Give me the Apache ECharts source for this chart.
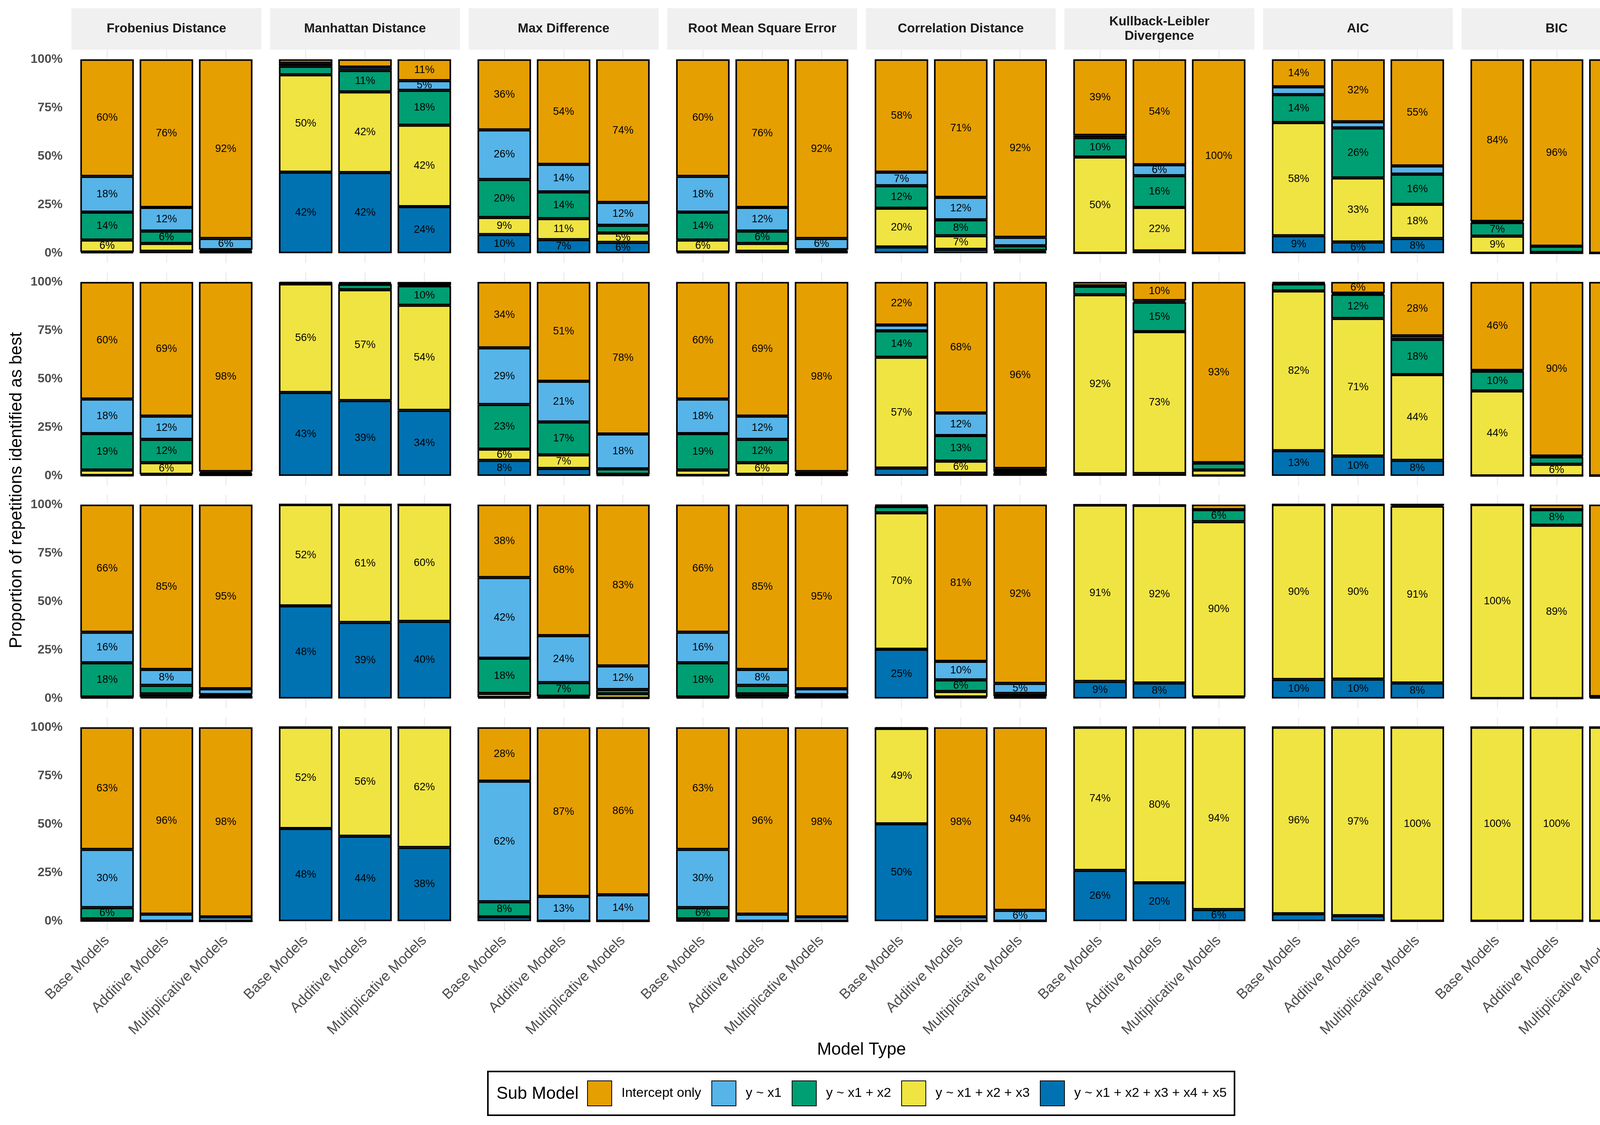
<!DOCTYPE html>
<html>
<head>
<meta charset="utf-8">
<script src="https://cdn.jsdelivr.net/npm/echarts@6/dist/echarts.min.js"></script>
<style>html,body{margin:0;padding:0;background:#fff}#chart{width:4320px;height:2880px}</style>
</head>
<body>
<div id="chart"></div>
<script>
// ---------- data ----------
const modelTypes = ['Base Models', 'Additive Models', 'Multiplicative Models'];
const subModels = ['Intercept only', 'y ~ x1', 'y ~ x1 + x2', 'y ~ x1 + x2 + x3', 'y ~ x1 + x2 + x3 + x4 + x5'];
const metricNames = ['Frobenius Distance', 'Manhattan Distance', 'Max Difference', 'Root Mean Square Error',
  'Correlation Distance', 'Kullback-Leibler\nDivergence', 'AIC', 'BIC'];
const sampleSizes = ['n = 100', 'n = 250', 'n = 1000', 'n = 5000'];
const yTicks = [0, 25, 50, 75, 100];

// each metric: rows n=100,250,1000,5000; each row: [base, additive, multiplicative];
// each bar: % for [Intercept only, y~x1, y~x1+x2, y~x1+x2+x3, y~x1+...+x5]
const frobeniusDistance = [
  [[60.4, 18.4, 14.4, 6.2, 0.6], [76.4, 12.2, 6.4, 4.0, 1.0], [92.4, 5.8, 0.8, 0.4, 0.6]],
  [[60.4, 17.8, 18.8, 2.8, 0.2], [69.2, 12.0, 12.0, 6.0, 0.8], [97.8, 0.8, 0.6, 0.2, 0.6]],
  [[65.8, 15.8, 17.6, 0.2, 0.6], [85.0, 8.2, 4.4, 1.6, 0.8], [95.0, 3.0, 0.6, 0.2, 1.2]],
  [[63.0, 30.0, 5.8, 1.0, 0.2], [96.4, 3.6, 0, 0, 0], [97.8, 2.2, 0, 0, 0]]
];
const manhattanDistance = [
  [[2.0, 1.6, 4.4, 50.2, 41.8], [4.0, 1.8, 11.0, 41.6, 41.6], [11.0, 5.0, 18.0, 42.0, 24.0]],
  [[0.6, 0, 0.4, 56.0, 43.0], [0.8, 0.4, 2.8, 57.2, 38.8], [1.6, 0.4, 10.0, 54.2, 33.8]],
  [[0, 0, 0, 52.2, 47.8], [0, 0, 0, 60.8, 39.2], [0, 0, 0, 60.2, 39.8]],
  [[0, 0, 0, 52.2, 47.8], [0, 0, 0, 56.2, 43.8], [0, 0, 0, 62.0, 38.0]]
];
const maxDifference = [
  [[36.4, 25.6, 19.6, 8.8, 9.6], [54.2, 14.2, 13.8, 10.8, 7.0], [73.8, 11.8, 4.0, 4.8, 5.6]],
  [[34.0, 29.2, 23.0, 5.8, 8.0], [51.2, 21.0, 17.0, 7.0, 3.8], [78.4, 18.0, 2.8, 0.4, 0.4]],
  [[37.6, 41.6, 18.2, 2.0, 0.6], [67.6, 24.2, 7.0, 0.6, 0.6], [83.2, 12.2, 2.2, 2.2, 0.2]],
  [[27.8, 62.2, 7.8, 0, 2.2], [87.2, 12.8, 0, 0, 0], [86.4, 13.6, 0, 0, 0]]
];
const rootMeanSquareError = [
  [[60.4, 18.4, 14.4, 6.2, 0.6], [76.4, 12.2, 6.4, 4.0, 1.0], [92.4, 5.8, 0.8, 0.4, 0.6]],
  [[60.4, 17.8, 18.8, 2.8, 0.2], [69.2, 12.0, 12.0, 6.0, 0.8], [97.8, 0.8, 0.6, 0.2, 0.6]],
  [[65.8, 15.8, 17.6, 0.2, 0.6], [85.0, 8.2, 4.4, 1.6, 0.8], [95.0, 3.0, 0.6, 0.2, 1.2]],
  [[63.0, 30.0, 5.8, 1.0, 0.2], [96.4, 3.6, 0, 0, 0], [97.8, 2.2, 0, 0, 0]]
];
const correlationDistance = [
  [[58.2, 7.0, 11.6, 20.0, 3.2], [71.2, 11.6, 8.2, 7.0, 2.0], [91.8, 4.4, 2.4, 0.8, 0.6]],
  [[22.2, 3.0, 13.6, 57.2, 4.0], [67.6, 11.6, 13.2, 6.2, 1.4], [96.2, 1.6, 0.4, 0.4, 1.4]],
  [[0.6, 0.4, 3.2, 70.4, 25.4], [80.8, 9.6, 6.0, 2.8, 0.8], [92.2, 5.2, 1.4, 0.6, 0.6]],
  [[0.6, 0, 0, 49.2, 50.2], [97.8, 2.2, 0, 0, 0], [94.4, 5.6, 0, 0, 0]]
];
const kullbackLeibler = [
  [[39.2, 1.2, 10.0, 49.6, 0], [54.4, 5.6, 16.4, 22.4, 1.2], [100, 0, 0, 0, 0]],
  [[2.0, 0.2, 4.4, 92.4, 1.0], [9.6, 0.8, 15.2, 73.2, 1.2], [93.2, 0.2, 3.6, 3.0, 0]],
  [[0.2, 0, 0, 91.0, 8.8], [0.4, 0, 0, 91.6, 8.0], [2.6, 0, 6.2, 90.4, 0.8]],
  [[0, 0, 0, 73.8, 26.2], [0, 0, 0, 80.2, 19.8], [0, 0, 0, 94.0, 6.0]]
];
const aic = [
  [[14.2, 4.0, 14.4, 58.4, 9.0], [32.2, 3.2, 25.8, 33.0, 5.8], [55.0, 4.2, 15.6, 17.6, 7.6]],
  [[0.6, 0.4, 3.6, 82.4, 13.0], [5.8, 0.6, 12.4, 71.0, 10.2], [27.8, 1.8, 18.2, 44.2, 8.0]],
  [[0, 0, 0, 90.2, 9.8], [0, 0, 0, 90.0, 10.0], [0, 0, 0.8, 91.2, 8.0]],
  [[0, 0, 0, 96.2, 3.8], [0, 0, 0, 97.2, 2.8], [0, 0, 0, 100, 0]]
];
const bic = [
  [[83.6, 0.6, 7.0, 8.8, 0], [96.4, 0, 3.2, 0.4, 0], [100, 0, 0, 0, 0]],
  [[45.6, 0.4, 10.2, 43.8, 0], [89.8, 0.4, 3.8, 6.0, 0], [100, 0, 0, 0, 0]],
  [[0, 0, 0, 100, 0], [2.6, 0, 8.0, 89.4, 0], [99.0, 0, 0, 0.4, 0.6]],
  [[0, 0, 0, 100, 0], [0, 0, 0, 100, 0], [0, 0, 0, 100, 0]]
];
const metricValues = [frobeniusDistance, manhattanDistance, maxDifference, rootMeanSquareError,
  correlationDistance, kullbackLeibler, aic, bic];

// ---------- style / layout ----------
const colors = ['#E69F00', '#56B4E9', '#009E73', '#F0E442', '#0072B2'];
const FONT = '"Liberation Sans", Arial, Helvetica, sans-serif';
const L = { left0: 183, pitchX: 508.4, panelW: 486, top0: 127, pitchY: 570, panelH: 546,
  stripTop: 21, stripH: 106, rStripX: 4232, rStripW: 68 };

const chart = echarts.init(document.getElementById('chart'), null, { renderer: 'canvas' });
const grids = [], xAxes = [], yAxes = [], series = [], graphics = [];

metricNames.forEach((mName, j) => {
  const pLeft = L.left0 + L.pitchX * j;
  sampleSizes.forEach((nName, i) => {
    const g = grids.length;
    const pTop = L.top0 + L.pitchY * i;
    grids.push({ left: pLeft + L.panelW * 0.1 / 3.2, width: L.panelW * 3 / 3.2, top: pTop, height: L.panelH });
    xAxes.push({
      type: 'category', gridIndex: g, data: modelTypes,
      axisLine: { show: false }, axisTick: { show: false }, splitLine: { show: false },
      axisLabel: { show: i === sampleSizes.length - 1, rotate: 45, interval: 0, fontSize: 37,
        color: '#4D4D4D', fontFamily: FONT, margin: 19, padding: [84, 0, 0, 0] }
    });
    yAxes.push({
      type: 'value', gridIndex: g, min: -5, max: 105, interval: 5,
      axisLine: { show: false }, axisTick: { show: false }, splitLine: { show: false },
      axisLabel: { show: j === 0, fontSize: 32, fontWeight: 'bold', color: '#4D4D4D', fontFamily: FONT, margin: 38,
        formatter: v => (yTicks.indexOf(v) >= 0 ? v + '%' : '') }
    });
    const rows = metricValues[j][i];
    [4, 3, 2, 1, 0].forEach(k => {
      const s = {
        type: 'bar', name: subModels[k], xAxisIndex: g, yAxisIndex: g, stack: 'p' + g,
        barWidth: 137, z: 2, silent: true,
        data: rows.map(bar => bar[k]),
        itemStyle: { color: colors[k], borderColor: '#000', borderWidth: 4 },
        label: { show: true, position: 'inside', fontSize: 27, color: '#000', fontFamily: FONT,
          textBorderWidth: 0,
          formatter: p => (p.value >= 4.5 ? Math.round(p.value) + '%' : '') },
        emphasis: { disabled: true }
      };
      if (k === 4) {
        s.markLine = { silent: true, symbol: 'none', z: 1, animation: false,
          label: { show: false }, lineStyle: { color: '#EBEBEB', width: 2.5, type: 'solid' },
          emphasis: { disabled: true },
          data: modelTypes.map(m => ({ xAxis: m })) };
      }
      series.push(s);
    });
  });
  // top strip
  graphics.push({ type: 'rect', shape: { x: pLeft, y: L.stripTop, width: L.panelW, height: L.stripH },
    style: { fill: '#F0F0F0' }, silent: true });
  graphics.push({ type: 'text', x: pLeft + L.panelW / 2, y: L.stripTop + L.stripH / 2, silent: true,
    style: { text: mName, textAlign: 'center', textVerticalAlign: 'middle', fill: '#1A1A1A',
      font: 'bold 33px ' + FONT, lineHeight: 37 } });
});

sampleSizes.forEach((nName, i) => {
  const pTop = L.top0 + L.pitchY * i;
  graphics.push({ type: 'rect', shape: { x: L.rStripX, y: pTop, width: L.rStripW, height: L.panelH },
    style: { fill: '#F0F0F0' }, silent: true });
  graphics.push({ type: 'text', x: L.rStripX + L.rStripW / 2, y: pTop + L.panelH / 2, rotation: -Math.PI / 2,
    silent: true, style: { text: nName, textAlign: 'center', textVerticalAlign: 'middle', fill: '#1A1A1A',
      font: 'bold 33px ' + FONT } });
});

const panelsBottom = L.top0 + L.pitchY * 3 + L.panelH;
const panelsRight = L.left0 + L.pitchX * 7 + L.panelW;
graphics.push({ type: 'text', x: 43, y: (L.top0 + panelsBottom) / 2, rotation: Math.PI / 2, silent: true,
  style: { text: 'Proportion of repetitions identified as best', textAlign: 'center', textVerticalAlign: 'middle',
    fill: '#000', font: '44px ' + FONT } });
graphics.push({ type: 'text', x: (L.left0 + panelsRight) / 2, y: 2688, silent: true,
  style: { text: 'Model Type', textAlign: 'center', textVerticalAlign: 'middle', fill: '#000', font: '44px ' + FONT } });
graphics.push({ type: 'text', x: 1271, y: 2801, silent: true, z: 100,
  style: { text: 'Sub Model', textAlign: 'left', textVerticalAlign: 'middle', fill: '#000', font: '44px ' + FONT } });

chart.setOption({
  animation: false,
  backgroundColor: '#fff',
  textStyle: { fontFamily: FONT },
  grid: grids, xAxis: xAxes, yAxis: yAxes, series: series,
  legend: {
    data: subModels, left: 1249, top: 2743, orient: 'horizontal', icon: 'rect',
    itemWidth: 62, itemHeight: 64, itemGap: 26,
    padding: [23, 20, 23, 254], borderColor: '#000', borderWidth: 4, backgroundColor: '#fff',
    selectedMode: false,
    textStyle: { fontSize: 34, color: '#000', fontFamily: FONT, padding: [0, 0, 0, 20] }
  },
  graphic: graphics
});
</script>
</body>
</html>
